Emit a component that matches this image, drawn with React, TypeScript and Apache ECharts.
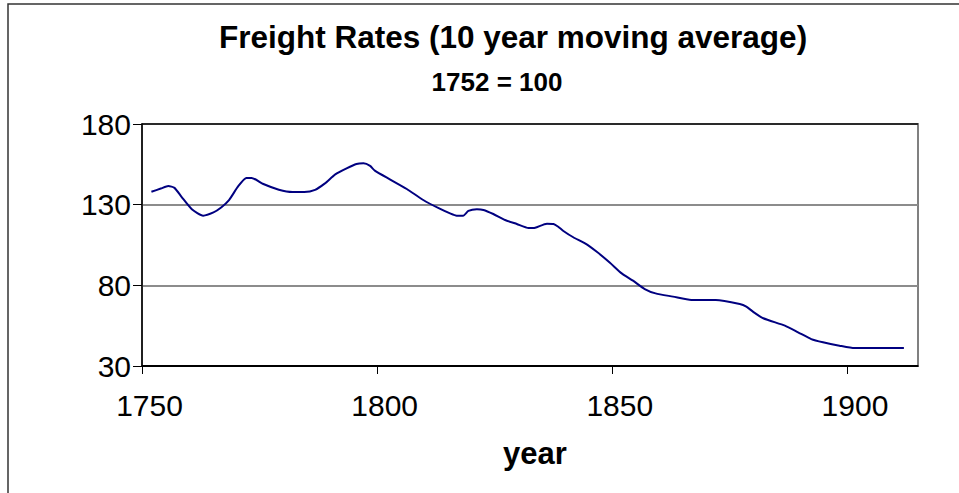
import React, { useEffect, useRef } from "react";
import * as echarts from "echarts";

const titleText = "Freight Rates (10 year moving average)";
const subtitleText = "1752 = 100";
const xAxisName = "year";

const years = [
  1752, 1754, 1755.6, 1756.9, 1758.4, 1760.6, 1763, 1765.2, 1766.9, 1768.5,
  1770.5, 1772.2, 1773.3, 1775.8, 1779.1, 1782, 1784.5, 1786.8, 1788.9, 1791.1,
  1793.5, 1795.6, 1797.1, 1798.5, 1799.5, 1802.7, 1806.3, 1809.8, 1813.3, 1815.5,
  1816.9, 1818.3, 1819.4, 1821.2, 1822.6, 1824.7, 1827.2, 1829.7, 1832.2, 1833.6,
  1836.1, 1837.5, 1838.5, 1839.6, 1841.7, 1844.2, 1846.7, 1849.5, 1852, 1854.4,
  1856.9, 1859.2, 1862.9, 1866.8, 1872, 1877.1, 1878.5, 1879.9, 1882.1, 1886.7,
  1889.5, 1892.3, 1894.8, 1898.3, 1901.5, 1906.8, 1912,
];

const freightRates = [
  138.0, 140.0, 141.6, 140.4, 134.9, 127.2, 123.2, 125.2, 128.4, 132.8,
  141.6, 146.6, 146.6, 142.8, 139.3, 137.9, 137.9, 139.2, 143.2, 148.8,
  152.5, 155.2, 155.6, 154.0, 151.1, 145.7, 139.7, 132.9, 127.5, 124.6,
  123.2, 123.2, 126.1, 127.1, 126.7, 124.2, 120.5, 118.0, 115.5, 115.7,
  118.2, 118.0, 116.3, 113.7, 109.8, 106.0, 100.8, 94.0, 87.4, 82.9,
  77.7, 75.0, 73.0, 70.9, 70.9, 68.4, 66.8, 63.7, 59.6, 55.0,
  50.9, 46.7, 44.7, 42.6, 41.1, 41.1, 41.1,
];

const xMin = 1750;
const xMax = 1915;
const xStep = 50;
const yMin = 30;
const yMax = 180;
const yStep = 50;

const FONT = "'Liberation Sans', Arial, Helvetica, sans-serif";

export default function App() {
  const ref = useRef<HTMLDivElement>(null);

  useEffect(() => {
    if (!ref.current) return;
    const chart = echarts.init(ref.current, undefined, { renderer: "svg" });
    const data = years.map((y, i) => [y, freightRates[i]]);

    chart.setOption({
      animation: false,
      backgroundColor: "#ffffff",
      textStyle: { fontFamily: FONT },
      grid: {
        left: 142,
        top: 124,
        right: 41,
        bottom: 127,
        show: true,
        borderColor: "#808080",
        borderWidth: 2,
        backgroundColor: "transparent",
      },
      graphic: [
        {
          type: "rect",
          silent: true,
          z: -10,
          shape: { x: 8, y: 4, width: 1200, height: 1200 },
          style: { fill: "none", stroke: "#333333", lineWidth: 1.5 },
        },
        {
          type: "text",
          x: 513,
          y: 37,
          style: {
            text: titleText,
            fontFamily: FONT,
            fontSize: 31.5,
            fontWeight: "bold",
            fill: "#000",
            align: "center",
            verticalAlign: "middle",
          },
        },
        {
          type: "text",
          x: 497,
          y: 82,
          style: {
            text: subtitleText,
            fontFamily: FONT,
            fontSize: 26,
            fontWeight: "bold",
            fill: "#000",
            align: "center",
            verticalAlign: "middle",
          },
        },
      ],
      xAxis: {
        type: "value",
        min: xMin,
        max: xMax,
        interval: xStep,
        name: xAxisName,
        nameLocation: "middle",
        nameGap: 72,
        nameTextStyle: {
          fontFamily: FONT,
          fontSize: 31,
          fontWeight: "bold",
          color: "#000",
          padding: [0, 0, 0, 10],
        },
        axisLine: { show: true, lineStyle: { color: "#000", width: 1.5 } },
        axisTick: { show: true, length: 8, lineStyle: { color: "#000", width: 1 } },
        axisLabel: {
          fontFamily: FONT,
          fontSize: 30,
          color: "#000",
          margin: 24,
          padding: [0, 0, 0, 15],
          showMaxLabel: false,
          formatter: (v: number) => String(v),
        },
        splitLine: { show: false },
      },
      yAxis: {
        type: "value",
        min: yMin,
        max: yMax,
        interval: yStep,
        axisLine: { show: true, lineStyle: { color: "#000", width: 1.5 } },
        axisTick: { show: true, length: 9, lineStyle: { color: "#000", width: 1 } },
        axisLabel: {
          fontFamily: FONT,
          fontSize: 30,
          color: "#000",
          margin: 11,
        },
        splitLine: {
          show: true,
          lineStyle: {
            color: ["#000000", "#8c8c8c", "#8c8c8c", "#2a2a2a"],
            width: 2,
          },
        },
      },
      series: [
        {
          type: "line",
          data,
          showSymbol: false,
          smooth: 0.2,
          lineStyle: { color: "#000080", width: 2 },
          itemStyle: { color: "#000080" },
        },
      ],
    });

    return () => chart.dispose();
  }, []);

  return (
    <div
      ref={ref}
      style={{
        position: "absolute",
        left: 0,
        top: 0,
        width: 959,
        height: 493,
        background: "#fff",
      }}
    />
  );
}
